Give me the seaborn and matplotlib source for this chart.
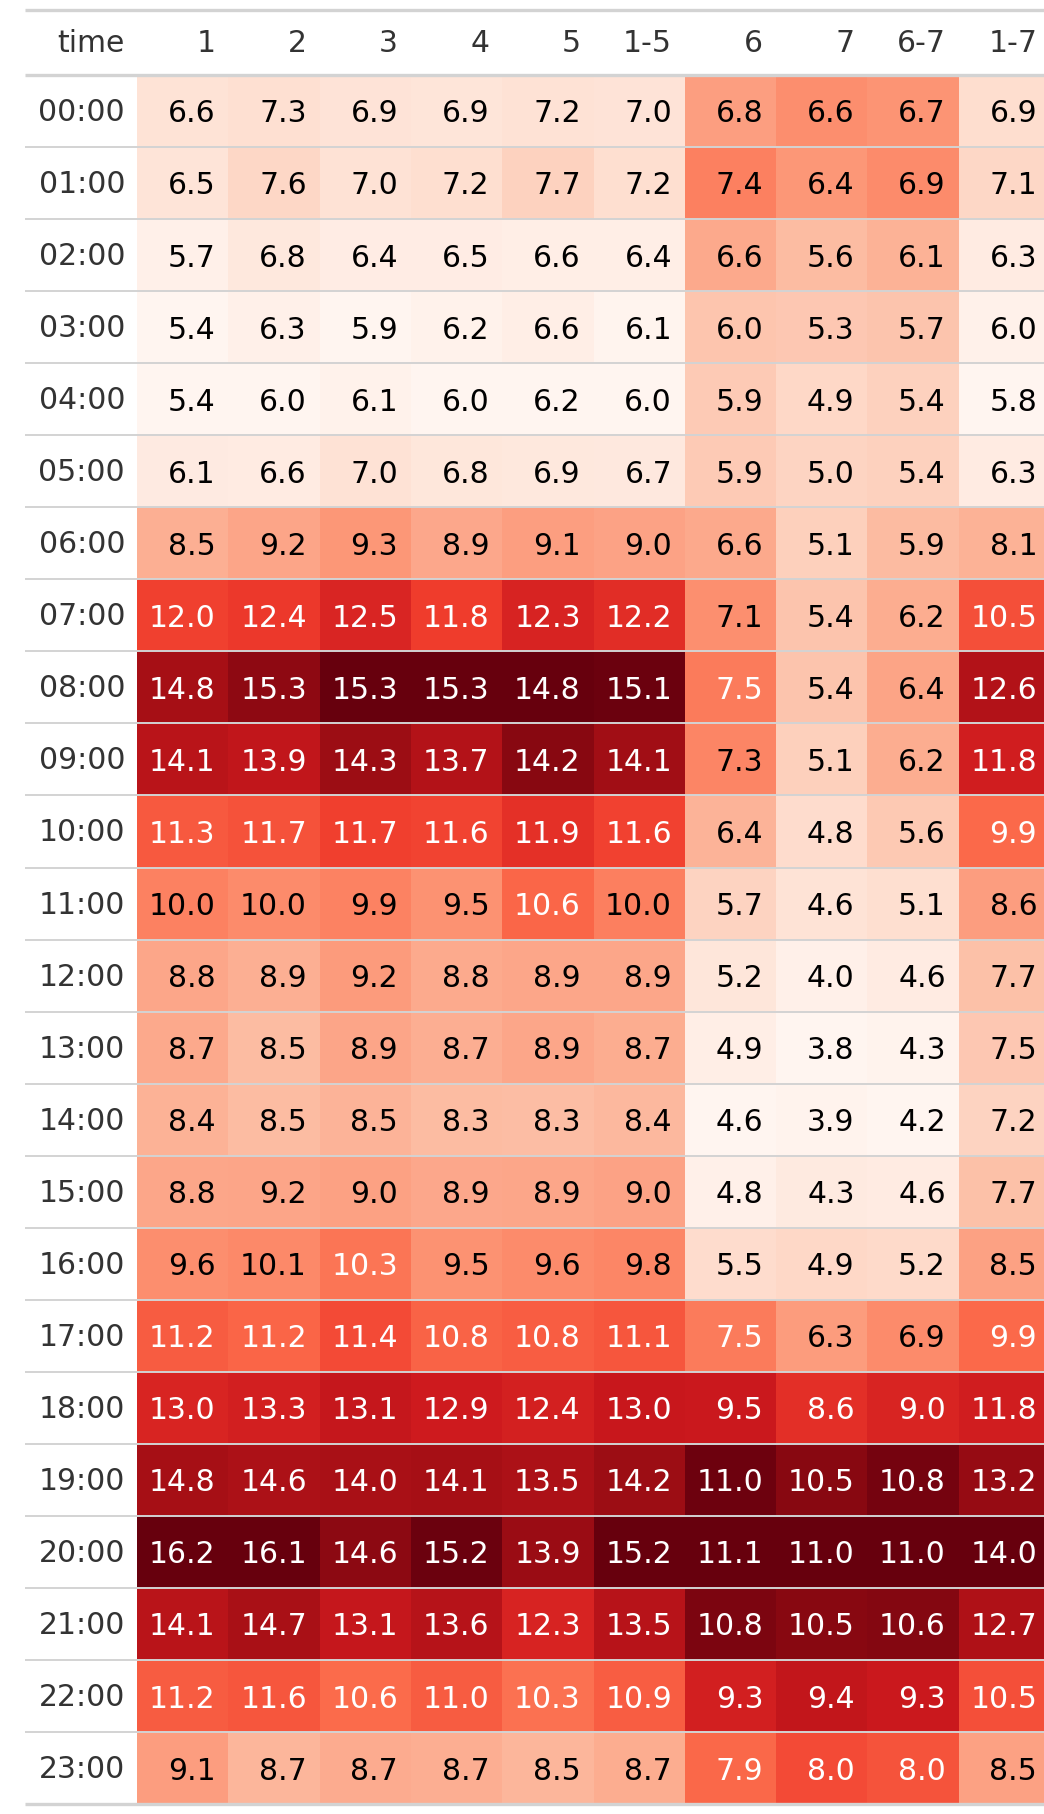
import numpy as np
import pandas as pd
import matplotlib.pyplot as plt
import seaborn as sns

times = [f'{h:02d}:00' for h in range(24)]
columns = ['1', '2', '3', '4', '5', '1-5', '6', '7', '6-7', '1-7']

day_1 = [6.6, 6.5, 5.7, 5.4, 5.4, 6.1, 8.5, 12.0, 14.8, 14.1, 11.3, 10.0,
         8.8, 8.7, 8.4, 8.8, 9.6, 11.2, 13.0, 14.8, 16.2, 14.1, 11.2, 9.1]
day_2 = [7.3, 7.6, 6.8, 6.3, 6.0, 6.6, 9.2, 12.4, 15.3, 13.9, 11.7, 10.0,
         8.9, 8.5, 8.5, 9.2, 10.1, 11.2, 13.3, 14.6, 16.1, 14.7, 11.6, 8.7]
day_3 = [6.9, 7.0, 6.4, 5.9, 6.1, 7.0, 9.3, 12.5, 15.3, 14.3, 11.7, 9.9,
         9.2, 8.9, 8.5, 9.0, 10.3, 11.4, 13.1, 14.0, 14.6, 13.1, 10.6, 8.7]
day_4 = [6.9, 7.2, 6.5, 6.2, 6.0, 6.8, 8.9, 11.8, 15.3, 13.7, 11.6, 9.5,
         8.8, 8.7, 8.3, 8.9, 9.5, 10.8, 12.9, 14.1, 15.2, 13.6, 11.0, 8.7]
day_5 = [7.2, 7.7, 6.6, 6.6, 6.2, 6.9, 9.1, 12.3, 14.8, 14.2, 11.9, 10.6,
         8.9, 8.9, 8.3, 8.9, 9.6, 10.8, 12.4, 13.5, 13.9, 12.3, 10.3, 8.5]
days_1_5 = [7.0, 7.2, 6.4, 6.1, 6.0, 6.7, 9.0, 12.2, 15.1, 14.1, 11.6, 10.0,
            8.9, 8.7, 8.4, 9.0, 9.8, 11.1, 13.0, 14.2, 15.2, 13.5, 10.9, 8.7]
day_6 = [6.8, 7.4, 6.6, 6.0, 5.9, 5.9, 6.6, 7.1, 7.5, 7.3, 6.4, 5.7,
         5.2, 4.9, 4.6, 4.8, 5.5, 7.5, 9.5, 11.0, 11.1, 10.8, 9.3, 7.9]
day_7 = [6.6, 6.4, 5.6, 5.3, 4.9, 5.0, 5.1, 5.4, 5.4, 5.1, 4.8, 4.6,
         4.0, 3.8, 3.9, 4.3, 4.9, 6.3, 8.6, 10.5, 11.0, 10.5, 9.4, 8.0]
days_6_7 = [6.7, 6.9, 6.1, 5.7, 5.4, 5.4, 5.9, 6.2, 6.4, 6.2, 5.6, 5.1,
            4.6, 4.3, 4.2, 4.6, 5.2, 6.9, 9.0, 10.8, 11.0, 10.6, 9.3, 8.0]
days_1_7 = [6.9, 7.1, 6.3, 6.0, 5.8, 6.3, 8.1, 10.5, 12.6, 11.8, 9.9, 8.6,
            7.7, 7.5, 7.2, 7.7, 8.5, 9.9, 11.8, 13.2, 14.0, 12.7, 10.5, 8.5]

df = pd.DataFrame(
    dict(zip(columns, [day_1, day_2, day_3, day_4, day_5, days_1_5,
                       day_6, day_7, days_6_7, days_1_7])),
    index=times)

# gradient per column, like a styled table
norm = (df - df.min()) / (df.max() - df.min())

W, H = 1044, 1814
cell_w, row_h = 91.3, 72.05
left, top = 137, 75

fig = plt.figure(figsize=(W / 100, H / 100), dpi=100)
ax = fig.add_axes([left / W, 1 - (top + 24 * row_h) / H, 10 * cell_w / W, 24 * row_h / H])

sns.heatmap(norm, cmap='Reds', vmin=0, vmax=1, annot=df.values, fmt='.1f',
            cbar=False, ax=ax, annot_kws={'fontsize': 21.5})

# right-align the numbers and pick text colour from the cell colour
mesh = ax.collections[0]
mesh.update_scalarmappable()
pad = 0.14
for t, fc in zip(ax.texts, mesh.get_facecolors()):
    x, y = t.get_position()
    t.set_position((x + 0.5 - pad, y + 0.04))
    t.set_ha('right')
    lum = sns.utils.relative_luminance(fc)
    t.set_color('black' if lum > 0.362 else 'white')

ax.set_xticks([])
ax.set_yticks(np.arange(24) + 0.52)
ax.set_yticklabels(times, rotation=0, fontsize=21.5, color='#333333')
ax.tick_params(axis='y', length=0, pad=8.6)
ax.set_xlabel('')
ax.set_ylabel('')

# header row
head_y = -0.44
ax.text(-0.131, head_y, 'time', ha='right', va='center', fontsize=21.5, color='#333333')
for i, c in enumerate(columns):
    ax.text(i + 1 - pad, head_y, c, ha='right', va='center', fontsize=21.5, color='#333333')

x0 = -(left - 25) / cell_w
grey = '#d3d3d3'
ax.hlines(np.arange(1, 24), x0, 10, color=grey, lw=1.4, clip_on=False)
ax.hlines([-(top - 10) / row_h, 0, 24], x0, 10, color=grey, lw=2.4, clip_on=False)

fig.savefig('out.png', dpi=100)
